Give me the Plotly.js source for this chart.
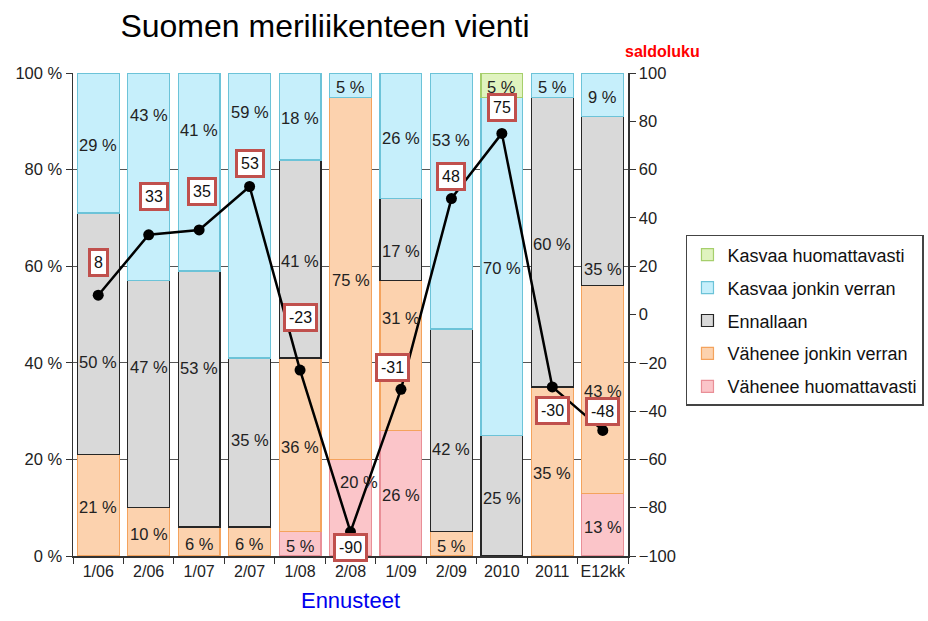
<!DOCTYPE html>
<html><head><meta charset="utf-8">
<script src="https://cdn.plot.ly/plotly-3.0.1.min.js"></script>
<style>body{margin:0;background:#fff}#c{width:928px;height:621px}</style>
</head><body><div id="c"></div>
<script>
const categories = ['1/06','2/06','1/07','2/07','1/08','2/08','1/09','2/09','2010','2011','E12kk'];
const vaheneeHuom = [0,0,0,0,5,20,26,0,0,0,13];
const vaheneeJonkin = [21,10,6,6,36,75,31,5,0,35,43];
const ennallaan = [50,47,53,35,41,0,17,42,25,60,35];
const kasvaaJonkin = [29,43,41,59,18,5,26,53,70,5,9];
const kasvaaHuom = [0,0,0,0,0,0,0,0,5,0,0];
const saldoluku = [8,33,35,53,-23,-90,-31,48,75,-30,-48];

const seriesNames = ['Vähenee huomattavasti','Vähenee jonkin verran','Ennallaan','Kasvaa jonkin verran','Kasvaa huomattavasti'];
const seriesVals = [vaheneeHuom, vaheneeJonkin, ennallaan, kasvaaJonkin, kasvaaHuom];

// styling
const fills = ['#fbc5c9','#fcd2ae','#d9d9d9','#c6effb','#e0f3bf'];
const borders = ['#e98f97','#f4a35d','#262626','#6cc3d8','#a6cf6c'];
// label nudges in pixels (style only)
const segNudgeY = [
  [0,0,0,0,0,28,0,0,0,0,0],
  [0,0,0,0,0,0,40,0,0,0,0],
  [-26,29,33,5,0,0,-9,-17,0,0,-66],
  [0,64,44,105,0,0,0,63,0,0,0],
  [0,0,0,0,0,0,0,0,0,0,0]
];
const segNudgeX = [
  [0,0,0,0,0,8,0,0,0,0,0],
  [0,0,0,0,0,0,0,0,0,0,0],
  [0,0,0,0,0,0,0,0,0,0,0],
  [0,0,0,0,0,0,0,0,0,0,0],
  [0,0,0,0,0,0,0,0,0,0,0]
];
const boxShiftY = [33,38,38,23,53,-16,22,22,26,-24,19];
const boxShiftX = [0,5,3,0,0,0,-8,0,0,0,0];

const FONT = 'Liberation Sans, Arial, sans-serif';

const traces = seriesVals.map((v,i)=>({
  type:'bar', x:categories, y:v.map(d=>d>0?d:null), name:seriesNames[i],
  legendgroup:'g'+i, legendrank: 10 - i,
  marker:{color:fills[i], line:{color:borders[i], width:1.2}},
  hoverinfo:'skip'
}));
traces.push({
  type:'scatter', mode:'lines+markers', x:categories, y:saldoluku, yaxis:'y2',
  line:{color:'#000', width:2.5}, marker:{color:'#000', size:11},
  showlegend:false, hoverinfo:'skip'
});

const annotations = [];
const base = categories.map(()=>0);
seriesVals.forEach((v,s)=>{
  v.forEach((d,i)=>{
    if (d>0) {
      annotations.push({
        x:i, y:base[i]+d/2, xref:'x', yref:'y', text:d+' %', showarrow:false,
        xshift:segNudgeX[s][i], yshift:segNudgeY[s][i]-2,
        font:{family:FONT, size:16.5, color:'#222'}
      });
    }
    base[i]+=d;
  });
});
saldoluku.forEach((s,i)=>{
  annotations.push({
    x:i, y:s, xref:'x', yref:'y2', text:String(s), showarrow:false,
    xshift:boxShiftX[i], yshift:boxShiftY[i],
    font:{family:FONT, size:16, color:'#111'},
    bgcolor:'#fff', bordercolor:'#c0504d', borderwidth:3, borderpad:3
  });
});
annotations.push({
  xref:'paper', yref:'paper', x:1.063, y:1.0455, xanchor:'center', yanchor:'middle',
  text:'<b>saldoluku</b>', showarrow:false,
  font:{family:FONT, size:16, color:'#ff0000'}
});

const layout = {
  width:928, height:621,
  margin:{l:73, r:300, t:73, b:65, autoexpand:false},
  paper_bgcolor:'#fff', plot_bgcolor:'#fff',
  font:{family:FONT, size:16, color:'#222'},
  title:{text:'Suomen meriliikenteen vienti', font:{size:32, color:'#000'},
    x:0.454, xref:'paper', xanchor:'center', y:0.958, yref:'container', yanchor:'middle'},
  barmode:'stack', bargap:0.17,
  xaxis:{type:'category', range:[-0.5,10.5], tickson:'boundaries', ticks:'outside', ticklen:6, tickcolor:'#333',
    showline:true, linecolor:'#333', linewidth:1.5, tickangle:0,
    title:{text:'Ennusteet', font:{size:22, color:'#0000ee'}, standoff:14},
    tickfont:{size:16, color:'#222'}},
  yaxis:{range:[0,100], tickmode:'array', tickvals:[0,20,40,60,80,100],
    ticktext:['0 %','20 %','40 %','60 %','80 %','100 %'], ticks:'outside', ticklen:6,
    tickcolor:'#333', showline:true, linecolor:'#333', linewidth:1.5, showgrid:true,
    gridcolor:'#555', gridwidth:1, zeroline:false, tickfont:{size:16.5, color:'#222'}},
  yaxis2:{range:[-100,100], dtick:20, overlaying:'y', side:'right', ticks:'outside', ticklen:6,
    tickcolor:'#333', showline:true, linecolor:'#333', linewidth:1.5, showgrid:false, zeroline:false,
    tickfont:{size:16.5, color:'#222'}},
  legend:{xref:'container', yref:'container', x:0.7392, y:0.6216, xanchor:'left', yanchor:'top',
    traceorder:'grouped', tracegroupgap:6.5, bordercolor:'#444', borderwidth:1.5, bgcolor:'#fff', itemwidth:30,
    font:{size:18, color:'#111'}},
  annotations:annotations,
  showlegend:true
};
Plotly.newPlot('c', traces, layout, {displayModeBar:false, staticPlot:true});
</script></body></html>
